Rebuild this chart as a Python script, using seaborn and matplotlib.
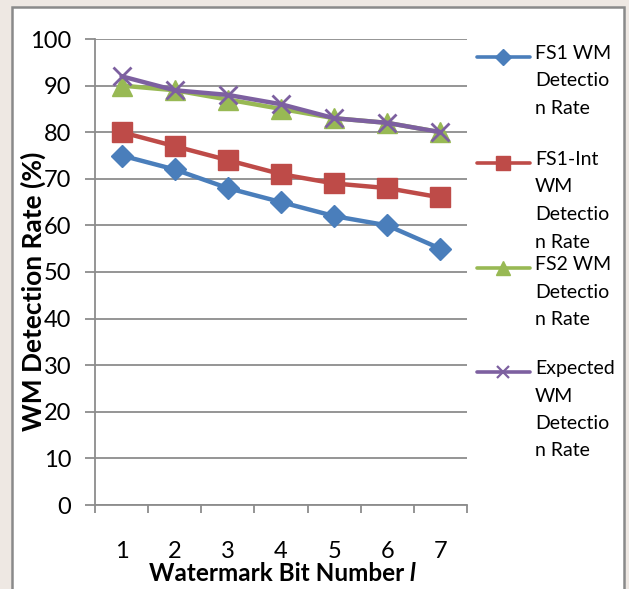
import matplotlib
matplotlib.use("Agg")
import matplotlib.pyplot as plt
from matplotlib.lines import Line2D
from matplotlib.patches import Rectangle
import seaborn as sns

# Detection rate (%) for each watermark bit number
bits = [1, 2, 3, 4, 5, 6, 7]
fs1 = [75, 72, 68, 65, 62, 60, 55]
fs1_int = [80, 77, 74, 71, 69, 68, 66]
fs2 = [90, 89, 87, 85, 83, 82, 80]
expected = [92, 89, 88, 86, 83, 82, 80]

labels = ["FS1 WM\nDetectio\nn Rate",
          "FS1-Int\nWM\nDetectio\nn Rate",
          "FS2 WM\nDetectio\nn Rate",
          "Expected\nWM\nDetectio\nn Rate"]
series = [fs1, fs1_int, fs2, expected]
colors = ["#4A7EBB", "#BE4B48", "#98B954", "#7D60A0"]
markers = ["D", "s", "^", "x"]
msizes = [11, 14, 14, 13]
y_ticks = [0, 10, 20, 30, 40, 50, 60, 70, 80, 90, 100]

sns.set_style("white")
plt.rcParams["font.family"] = ["Lato", "DejaVu Sans"]
plt.rcParams["text.color"] = "black"
plt.rcParams["axes.labelcolor"] = "black"
plt.rcParams["xtick.labelcolor"] = "black"
plt.rcParams["ytick.labelcolor"] = "black"

W, H = 629, 589
fig = plt.figure(figsize=(W / 100, H / 100), dpi=100, facecolor="#eee8e3")

# white chart area with grey border
frame = Rectangle((12 / W, -0.05), (624 - 12) / W, 1.05 - 7 / H,
                  transform=fig.transFigure, facecolor="white",
                  edgecolor="#8a8a8a", linewidth=1.8, zorder=-5)
fig.patches.append(frame)

ax = fig.add_axes([95 / W, 1 - 505 / H, (467 - 95) / W, (505 - 39) / H])
ax.set_facecolor("none")
ax.set_zorder(2)

for vals, c, m, ms in zip(series, colors, markers, msizes):
    sns.lineplot(x=bits, y=vals, ax=ax, color=c, linewidth=3.2, marker=m,
                 markersize=ms, markeredgecolor=c, markeredgewidth=2 if m == "x" else 1,
                 legend=False, zorder=3)

ax.set_xlim(0.5, 7.5)
ax.set_ylim(0, 100)
ax.set_yticks(y_ticks)
ax.set_xticks(bits)
ax.set_xticks([b + 0.5 for b in [0] + bits], minor=True)
ax.grid(axis="y", color="#8c8c8c", linewidth=1.3)
ax.grid(axis="x", visible=False)
for s in ["top", "right"]:
    ax.spines[s].set_visible(False)
for s in ["left", "bottom"]:
    ax.spines[s].set_color("#8c8c8c")
    ax.spines[s].set_linewidth(1.3)
ax.tick_params(axis="y", which="major", direction="out", length=7, width=1.3,
               color="#8c8c8c", labelsize=17, pad=10, left=True)
ax.tick_params(axis="x", which="major", length=0, labelsize=17, pad=26)
ax.tick_params(axis="x", which="minor", direction="out", length=6, width=1.3,
               color="#8c8c8c", bottom=True)
ax.set_axisbelow(True)

ax.set_ylabel("WM Detection Rate (%)", fontsize=19, fontweight="bold")
ax.yaxis.set_label_coords(-0.133, 0.459)
ax.set_xlabel("Watermark Bit Number", fontsize=17.5, fontweight="bold")
ax.xaxis.set_label_coords(0.487, -0.122)
ax.annotate("l", xy=(1, 0), xycoords=ax.xaxis.label, xytext=(4, 0),
            textcoords="offset points", ha="left", va="bottom",
            fontsize=17.5, fontweight="bold", style="italic")

# legend entries on the right
entry_y = [57, 163, 268, 372]
for lab, c, m, ms, y in zip(labels, colors, markers, msizes, entry_y):
    yf = 1 - y / H
    fig.add_artist(Line2D([477 / W, 530 / W], [yf, yf], color=c, linewidth=2.6,
                          transform=fig.transFigure))
    fig.add_artist(Line2D([503 / W], [yf], color=c, marker=m, markersize=ms * 0.7,
                          markeredgecolor=c, markeredgewidth=1.6 if m == "x" else 1,
                          transform=fig.transFigure))
    fig.text(535 / W, 1 - (y - 12) / H, lab, ha="left", va="top", fontsize=14,
             linespacing=1.75, transform=fig.transFigure)

fig.savefig("out.png", dpi=100, facecolor=fig.get_facecolor())
